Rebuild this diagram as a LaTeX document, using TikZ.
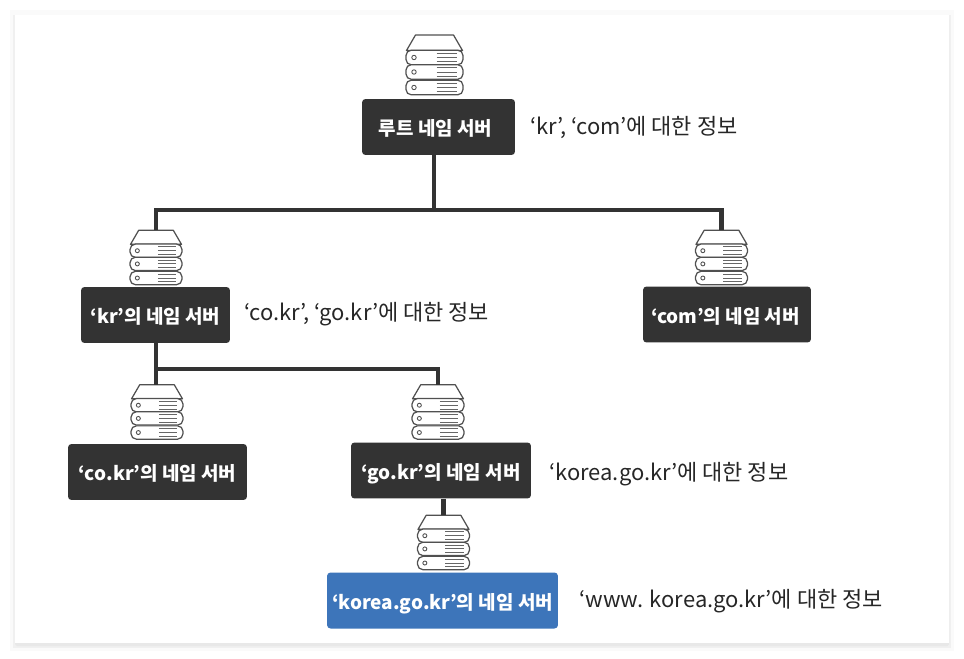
\documentclass[tikz,border=0pt]{standalone}
\usepackage{fontspec}
\setmainfont{Noto Sans CJK KR}
\usepackage{xcolor}
\usetikzlibrary{positioning,calc}
\definecolor{boxdark}{HTML}{333333}
\definecolor{boxblue}{HTML}{3D75BA}
\definecolor{iconline}{HTML}{505050}
\begin{document}
\begin{tikzpicture}[
  x=0.02cm, y=-0.02cm,
  panel/.style={fill=black!9, rounded corners=1pt},
  box/.style={fill=boxdark, text=white, rounded corners=2pt, align=center, font=\fontsize{10.8pt}{12pt}\bfseries, minimum height=1.12cm, inner sep=0pt, text height=11.2pt, text depth=1pt},
  hot/.style={box, fill=boxblue},
  note/.style={anchor=west, inner sep=0pt, text=black!85, font=\fontsize{12.5pt}{14pt}\selectfont},
  srv/.style={minimum width=1.14cm, minimum height=1.22cm, inner sep=0pt},
  srvsmall/.style={minimum width=1.04cm, minimum height=1.1cm, inner sep=0pt},
  wire/.style={draw=boxdark, line width=2.3pt},
  server/.pic={
    \draw[iconline, line width=0.7pt, line join=round, fill=white] (-28,-15) -- (-19,-30.5) -- (19,-30.5) -- (28,-15) -- cycle;
    \foreach \y in {-8,6.5,22} {
      \draw[iconline, line width=0.7pt, fill=white, rounded corners=3pt] (-28.5,\y-7.3) rectangle (28.5,\y+7.3);
      \draw[iconline, line width=0.5pt] (-20.5,\y) circle (2.2);
      \foreach \d in {-4.2,0,4.2} \draw[black!60, line width=0.55pt] (2,\y+\d) -- (22,\y+\d);
    }
  }
]
\useasboundingbox (0,0) rectangle (964,659);
\fill[white] (0,0) rectangle (964,659);
\fill[black!2] (10,10) rectangle (954,651);
\fill[black!6] (13,15) rectangle (951,648);
\fill[panel] (15,18) rectangle (949,646);
\fill[white] (15,15) rectangle (949,643);

\node[box, minimum width=3.06cm] (root) at (438.5,127) {루트 네임 서버\hspace*{0.12cm}};
\node[box, minimum width=2.98cm] (kr) at (155.5,315) {‘kr’의 네임 서버};
\node[box, minimum width=3.36cm] (com) at (727,314.5) {‘com’의 네임 서버\hspace*{0.06cm}};
\node[box, minimum width=3.58cm] (cokr) at (157.5,472) {‘co.kr’의 네임 서버};
\node[box, minimum width=3.6cm] (gokr) at (441,470.5) {‘go.kr’의 네임 서버};
\node[hot, minimum width=4.62cm] (korea) at (442.5,600.5) {‘korea.go.kr’의 네임 서버};

\node[srv] (srvroot) at (434.5,65.5) {};
\node[srvsmall] (srvkr) at (156,258) {};
\node[srvsmall] (srvcom) at (721.5,258) {};
\node[srvsmall] (srvco) at (157,412.5) {};
\node[srvsmall] (srvgo) at (438,412.5) {};
\node[srvsmall] (srvkorea) at (443.5,543) {};
\pic at (srvroot) {server};
\foreach \s in {srvkr,srvcom,srvco,srvgo,srvkorea} \pic[scale=.91] at (\s) {server};

\node[note] (noteroot) at (530,128) {‘kr’, ‘com’에 대한 정보};
\node[note] (notekr) at (244,314) {‘co.kr’, ‘go.kr’에 대한 정보};
\node[note] (notego) at (549,474) {‘korea.go.kr’에 대한 정보};
\node[note] (notekorea) at (579,601) {‘www. korea.go.kr’에 대한 정보};

% connectors
\coordinate (hub) at (434,210);
\coordinate (krhub) at (156,369);
\draw[wire] (hub |- root.south) -- (hub);
\draw[wire] (srvkr.north) |- (hub) -| (srvcom.north);
\draw[wire] (krhub |- kr.south) -- (krhub |- srvco.north);
\draw[wire] (krhub) -| (srvgo.north);
\draw[wire] (srvkorea.north |- gokr.south) -- (srvkorea.north);
\end{tikzpicture}
\end{document}
